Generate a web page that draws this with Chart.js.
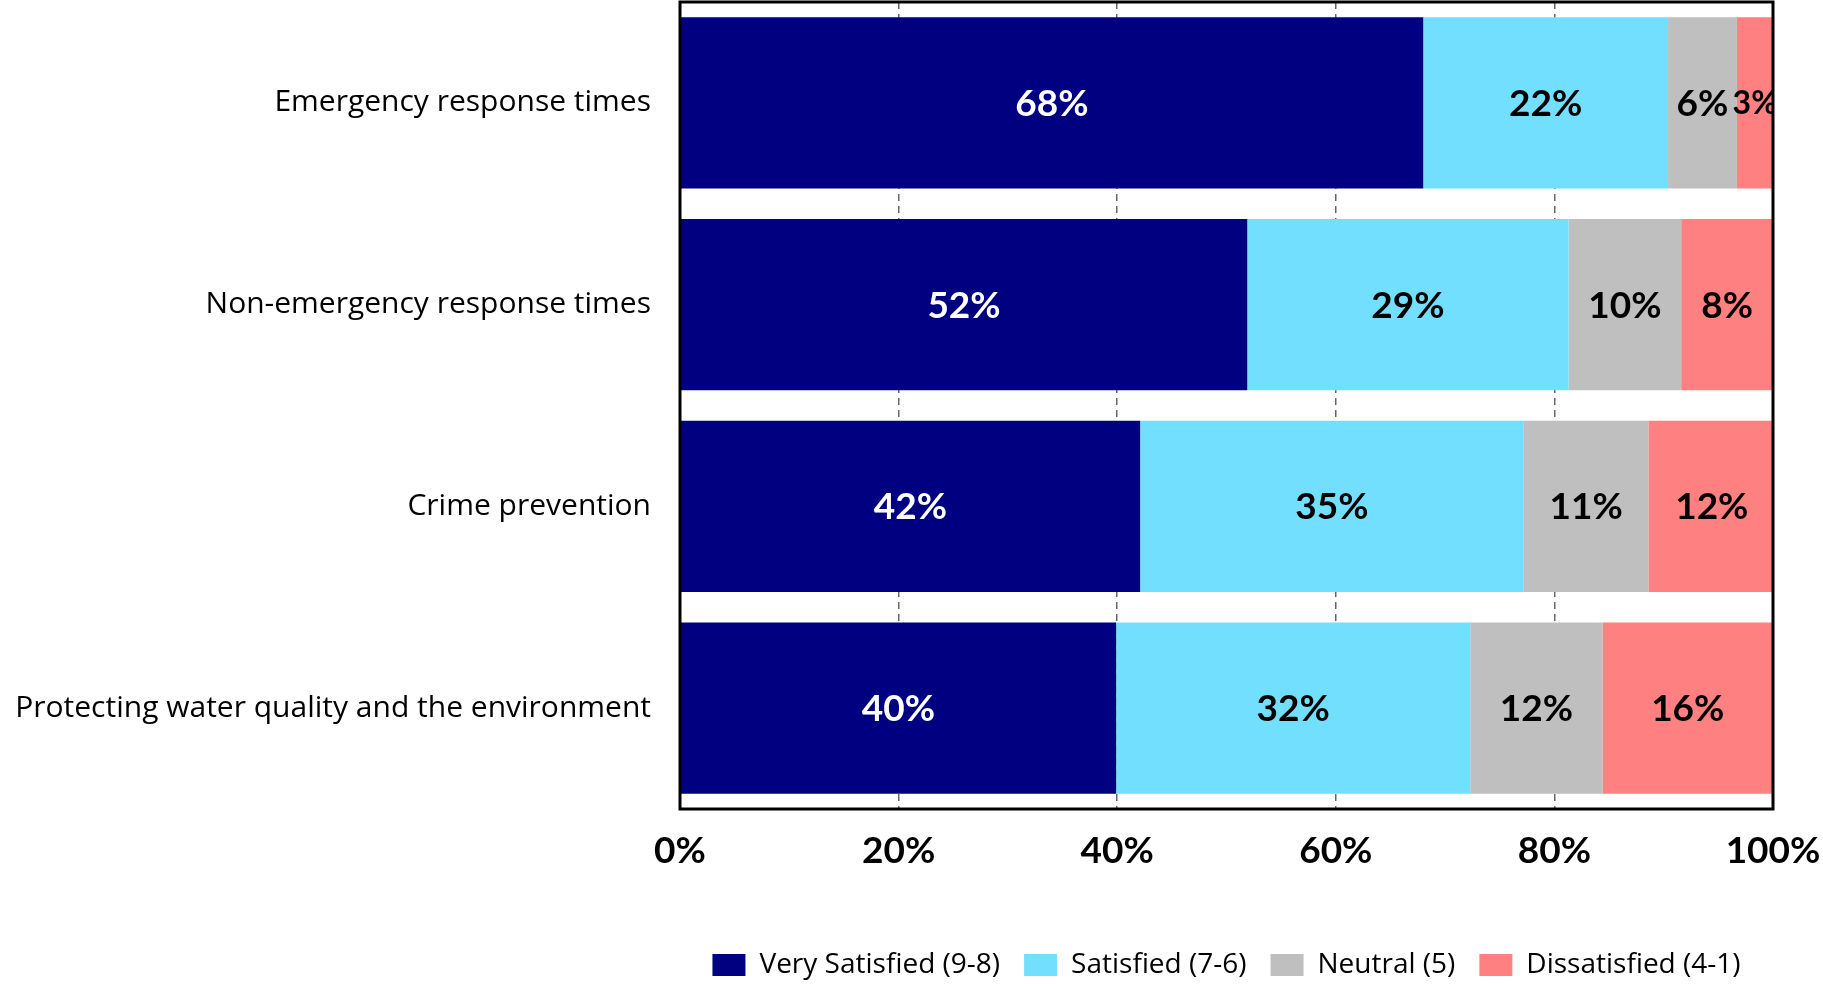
<!DOCTYPE html>
<html>
<head>
<meta charset="utf-8">
<script src="https://cdn.jsdelivr.net/npm/chart.js@4"></script>
<style>
  html, body { margin: 0; padding: 0; background: #fff; }
  #wrap { width: 1823px; height: 984px; }
</style>
</head>
<body>
<div id="wrap"><canvas id="myChart"></canvas></div>
<script>
// categories (top to bottom)
const categories = [
  'Emergency response times',
  'Non-emergency response times',
  'Crime prevention',
  'Protecting water quality and the environment'
];
const seriesNames = ['Very Satisfied (9-8)', 'Satisfied (7-6)', 'Neutral (5)', 'Dissatisfied (4-1)'];
// percent of respondents
const verySatisfied = [68.0, 51.9, 42.1, 39.9];
const satisfied = [22.4, 29.4, 35.1, 32.4];
const neutral = [6.3, 10.3, 11.4, 12.1];
const dissatisfied = [3.3, 8.4, 11.6, 15.6];
const xTicks = [0, 20, 40, 60, 80, 100];

const colors = ['#000080', '#73DFFF', '#BFBFBF', '#FF8080'];
const labelColors = ['#ffffff', '#000000', '#000000', '#000000'];
const BOLD_FONT = 'Lato';
const TEXT_FONT = '"Open Sans"';

// draws the % value in the middle of every segment
const segmentLabels = {
  id: 'segmentLabels',
  afterDatasetsDraw(chart) {
    const ctx = chart.ctx;
    const a = chart.chartArea;
    ctx.save();
    ctx.beginPath();
    ctx.rect(a.left, a.top, a.right - a.left, a.bottom - a.top);
    ctx.clip();
    ctx.textAlign = 'center';
    ctx.textBaseline = 'middle';
    chart.data.datasets.forEach((ds, di) => {
      const meta = chart.getDatasetMeta(di);
      ctx.fillStyle = labelColors[di];
      meta.data.forEach((bar, i) => {
        const txt = Math.round(ds.data[i]) + '%';
        const w = Math.abs(bar.x - bar.base);
        ctx.font = `bold 37px ${BOLD_FONT}`;
        // narrow segments get a slightly smaller label, like the original
        if (ctx.measureText(txt).width > w) ctx.font = `bold 32px ${BOLD_FONT}`;
        const cx = (bar.x + bar.base) / 2;
        ctx.fillText(txt, cx, bar.y + 1);
      });
    });
    ctx.restore();
  }
};

// black frame round the plot area
const plotFrame = {
  id: 'plotFrame',
  afterDatasetsDraw(chart) {
    const a = chart.chartArea;
    const ctx = chart.ctx;
    ctx.save();
    ctx.strokeStyle = '#000';
    ctx.lineWidth = 3;
    ctx.strokeRect(a.left, a.top, a.right - a.left, a.bottom - a.top);
    ctx.restore();
  }
};

const ctx = document.getElementById('myChart').getContext('2d');
const myChart = new Chart(ctx, {
  type: 'bar',
  data: {
    labels: categories,
    datasets: [verySatisfied, satisfied, neutral, dissatisfied].map((vals, i) => ({
      label: seriesNames[i],
      data: vals,
      backgroundColor: colors[i],
      borderWidth: 0,
      categoryPercentage: 0.85,
      barPercentage: 1
    }))
  },
  options: {
    indexAxis: 'y',
    responsive: true,
    maintainAspectRatio: false,
    animation: false,
    layout: { padding: { top: 2, right: 50, bottom: -5, left: 0 } },
    scales: {
      x: {
        stacked: true,
        min: 0,
        max: 100,
        afterBuildTicks: (scale) => { scale.ticks = xTicks.map(v => ({ value: v })); },
        afterFit: (scale) => {
          scale.height = 118;
          scale.paddingLeft = 0;
          scale.paddingRight = 0;
        },
        ticks: {
          callback: (v) => v + '%',
          color: '#000',
          padding: 20,
          maxRotation: 0,
          font: { family: BOLD_FONT, size: 37, weight: 'bold' }
        },
        grid: { color: '#666', lineWidth: 1.5, drawTicks: false },
        border: { display: false, dash: [7, 5] }
      },
      y: {
        stacked: true,
        afterFit: (scale) => {
          scale.width = 680;
          scale.paddingTop = 0;
          scale.paddingBottom = 0;
        },
        ticks: {
          color: '#000',
          padding: 29,
          font: { family: TEXT_FONT, size: 30 }
        },
        grid: { display: false, drawTicks: false },
        border: { display: false }
      }
    },
    plugins: {
      tooltip: { enabled: false },
      legend: {
        position: 'bottom',
        fullSize: false,
        labels: {
          boxWidth: 33,
          boxHeight: 22,
          padding: 24,
          color: '#000',
          font: { family: TEXT_FONT, size: 28 }
        }
      }
    }
  },
  plugins: [segmentLabels, plotFrame]
});
</script>
</body>
</html>
